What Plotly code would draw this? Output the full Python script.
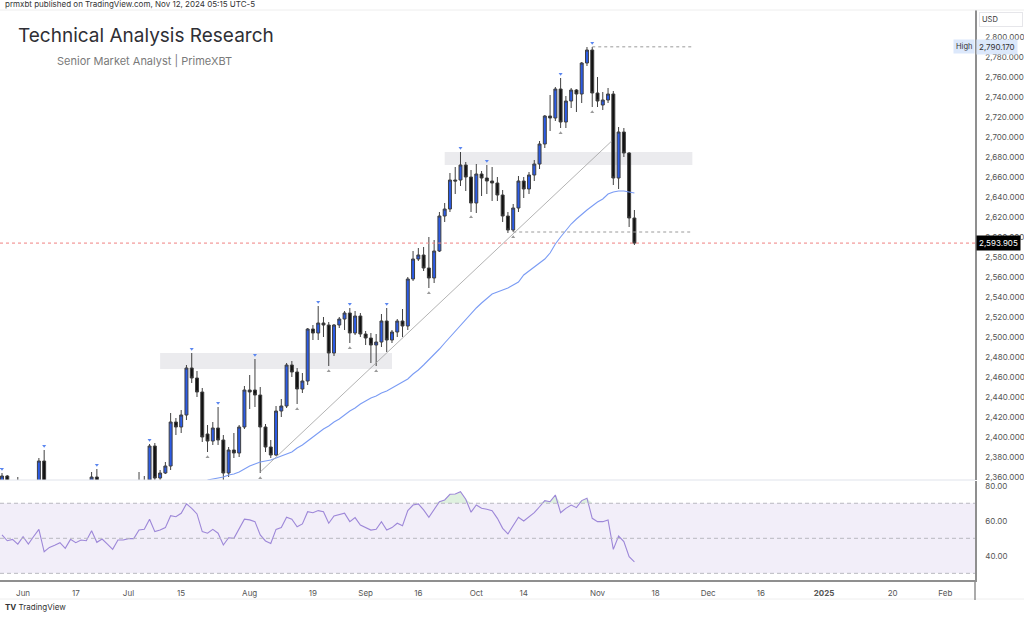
import numpy as np
import pandas as pd
import plotly.graph_objects as go

# ---------------- data ----------------
start_date = "2024-05-28"
end_date = "2024-11-12"

opens = [2351, 2361, 2338, 2343, 2327, 2350, 2327, 2355, 2376, 2294,
         2311, 2316, 2324, 2303, 2333, 2319, 2329, 2328, 2360, 2322,
         2334, 2320, 2298, 2327, 2326, 2331, 2330, 2356, 2357, 2391,
         2359, 2364, 2371, 2415, 2410, 2422, 2469, 2459, 2445, 2403,
         2396, 2409, 2397, 2364, 2387, 2384, 2410, 2447, 2447, 2442,
         2410, 2390, 2382, 2426, 2431, 2472, 2465, 2448, 2456, 2508,
         2504, 2514, 2512, 2484, 2512, 2518, 2524, 2504, 2521, 2503,
         2499, 2492, 2495, 2516, 2497, 2505, 2516, 2511, 2558, 2578,
         2582, 2569, 2559, 2586, 2621, 2628, 2657, 2657, 2672, 2660,
         2634, 2663, 2659, 2656, 2654, 2642, 2621, 2607, 2629, 2656,
         2648, 2662, 2673, 2693, 2721, 2719, 2748, 2715, 2736, 2747,
         2743, 2774, 2787, 2744, 2732, 2737, 2743, 2659, 2705, 2684,
         2619]
highs = [2364, 2362, 2351, 2360, 2354, 2351, 2356, 2379, 2387, 2314,
         2318, 2342, 2327, 2335, 2335, 2331, 2332, 2365, 2368, 2337,
         2336, 2324, 2332, 2339, 2339, 2335, 2365, 2361, 2393, 2394,
         2367, 2375, 2424, 2419, 2427, 2472, 2484, 2466, 2449, 2412,
         2415, 2430, 2402, 2390, 2404, 2412, 2451, 2462, 2478, 2450,
         2413, 2397, 2431, 2438, 2474, 2476, 2469, 2464, 2509, 2512,
         2531, 2520, 2515, 2513, 2520, 2526, 2529, 2526, 2524, 2506,
         2504, 2503, 2523, 2529, 2507, 2518, 2528, 2560, 2586, 2589,
         2590, 2600, 2597, 2625, 2634, 2664, 2670, 2685, 2675, 2667,
         2673, 2666, 2672, 2670, 2660, 2647, 2625, 2633, 2661, 2660,
         2665, 2677, 2696, 2722, 2742, 2750, 2759, 2741, 2749, 2748,
         2775, 2790, 2790, 2760, 2745, 2749, 2746, 2710, 2709, 2685,
         2627]
lows = [2341, 2334, 2326, 2314, 2315, 2314, 2323, 2350, 2287, 2286,
        2298, 2301, 2296, 2302, 2310, 2310, 2320, 2327, 2316, 2317,
        2310, 2293, 2297, 2318, 2318, 2319, 2326, 2352, 2352, 2353,
        2357, 2363, 2367, 2402, 2404, 2417, 2454, 2440, 2395, 2385,
        2392, 2392, 2356, 2360, 2379, 2380, 2408, 2428, 2430, 2364,
        2385, 2379, 2381, 2420, 2429, 2460, 2433, 2444, 2452, 2497,
        2497, 2500, 2471, 2481, 2509, 2507, 2494, 2502, 2500, 2492,
        2474, 2471, 2490, 2485, 2494, 2500, 2500, 2507, 2556, 2576,
        2566, 2549, 2554, 2585, 2615, 2625, 2643, 2651, 2646, 2625,
        2624, 2641, 2643, 2636, 2636, 2615, 2604, 2605, 2625, 2639,
        2643, 2656, 2668, 2689, 2706, 2716, 2709, 2709, 2729, 2725,
        2734, 2771, 2730, 2730, 2727, 2734, 2652, 2648, 2680, 2610,
        2592]
closes = [2361, 2338, 2343, 2327, 2350, 2327, 2355, 2376, 2294, 2311,
          2316, 2324, 2303, 2333, 2319, 2329, 2328, 2360, 2322, 2334,
          2320, 2298, 2327, 2326, 2331, 2330, 2356, 2356, 2391, 2359,
          2364, 2371, 2415, 2410, 2422, 2469, 2459, 2445, 2400, 2396,
          2409, 2397, 2364, 2387, 2384, 2410, 2447, 2445, 2442, 2410,
          2390, 2382, 2426, 2431, 2472, 2465, 2448, 2456, 2508, 2504,
          2514, 2512, 2484, 2512, 2518, 2524, 2504, 2521, 2503, 2499,
          2492, 2495, 2516, 2497, 2505, 2516, 2511, 2558, 2578, 2582,
          2569, 2559, 2586, 2621, 2628, 2657, 2656, 2672, 2660, 2634,
          2663, 2659, 2656, 2654, 2642, 2621, 2607, 2629, 2656, 2648,
          2662, 2673, 2693, 2721, 2719, 2748, 2715, 2736, 2747, 2743,
          2774, 2787, 2744, 2736, 2737, 2743, 2659, 2705, 2684, 2619,
          2593.905]

rsi = [51.9, 48.6, 49.4, 46.7, 50.9, 46.7, 51.0, 55.1, 42.3, 44.8,
       46.0, 47.5, 44.3, 49.4, 47.5, 49.0, 48.6, 54.3, 47.7, 49.6,
       46.7, 43.7, 49.0, 49.0, 49.8, 49.8, 54.7, 55.1, 60.9, 53.8,
       54.7, 56.1, 62.9, 62.3, 64.3, 69.6, 67.1, 63.9, 53.8, 52.9,
       55.1, 52.9, 46.2, 50.3, 50.0, 55.1, 60.9, 60.5, 59.5, 51.9,
       48.5, 47.1, 55.1, 56.1, 62.0, 60.9, 56.6, 58.2, 65.2, 64.6,
       65.8, 65.2, 58.6, 62.7, 63.5, 64.3, 59.5, 61.8, 57.6, 56.3,
       54.7, 55.1, 59.5, 54.7, 56.1, 58.6, 57.2, 65.8, 69.0, 69.6,
       66.2, 62.0, 66.8, 70.9, 71.9, 75.1, 75.3, 76.6, 72.3, 64.9,
       69.0, 67.1, 66.6, 65.8, 61.4, 55.7, 52.5, 57.6, 62.0, 59.9,
       62.3, 64.6, 68.0, 71.5, 70.9, 74.7, 64.6, 67.1, 69.0, 67.5,
       71.5, 72.9, 61.4, 59.5, 59.5, 60.5, 43.7, 51.3, 48.1, 39.5,
       36.6]

ma_start = 39
ma_values = [2357, 2358, 2359, 2360, 2362, 2363, 2365, 2368, 2371, 2373,
             2375, 2376, 2377, 2379, 2381, 2383, 2385, 2389, 2392, 2396,
             2400, 2404, 2408, 2411, 2415, 2418, 2422, 2426, 2429, 2433,
             2436, 2439, 2441, 2444, 2446, 2449, 2452, 2455, 2458, 2463,
             2467, 2472, 2477, 2482, 2488, 2494, 2500, 2506, 2512, 2518,
             2524, 2529, 2534, 2539, 2543, 2545, 2547, 2549, 2552, 2555,
             2562, 2566, 2570, 2574, 2578, 2584, 2593, 2600, 2607, 2613,
             2618, 2623, 2627, 2631, 2635, 2638, 2643, 2645, 2646, 2646,
             2645, 2644]

pivot_high_idx = [0, 8, 18, 28, 36, 41, 48, 60, 66, 73, 87, 92, 106, 112]
pivot_low_idx = [27, 39, 49, 56, 62, 66, 71, 81, 89, 97, 106, 112]

tick_dates = ["2024-06-03", "2024-06-17", "2024-07-01", "2024-07-15", "2024-08-01",
              "2024-08-19", "2024-09-02", "2024-09-16", "2024-10-01", "2024-10-14",
              "2024-11-01", "2024-11-18", "2024-12-02", "2024-12-16", "2025-01-01",
              "2025-01-20", "2025-02-03"]
tick_labels = ["Jun", "17", "Jul", "15", "Aug", "19", "Sep", "16", "Oct", "14",
               "Nov", "18", "Dec", "16", "<b>2025</b>", "20", "Feb"]

price_ticks = list(range(2360, 2801, 20))
rsi_ticks = [40, 60, 80]

last_price = 2593.905
high_price = 2790.170

# drawings (index, price anchors)
zone_boxes = [(30, 74, 2468, 2484), (84, 131, 2672, 2685)]
trend_line = (49, 2365, 115.7, 2696)
high_line = (112, 131, 2790.17)
low_line = (97, 131, 2605)

# ---------------- helpers ----------------
dates = pd.bdate_range(start_date, end_date)
n = len(closes)
idx = np.arange(n)
tick_idx = [int(np.busday_count(start_date, d)) for d in tick_dates]

W, H = 1024, 617
ML, MR, MT, MB = 0, 49, 10, 37
PW, PH = W - ML - MR, H - MT - MB


def px(x):
    return (x - ML) / PW


def py(y):
    return (H - MB - y) / PH


BLUE = "#2b5be6"
FONT = "Inter, 'Noto Sans', sans-serif"
AXIS = "#8f8f8f"

fig = go.Figure()

fig.add_trace(go.Candlestick(
    x=idx, open=opens, high=highs, low=lows, close=closes,
    increasing=dict(fillcolor=BLUE, line=dict(color="#404040", width=1)),
    decreasing=dict(fillcolor="#111111", line=dict(color="#404040", width=1)),
    whiskerwidth=0, showlegend=False, hoverinfo="skip",
    xaxis="x", yaxis="y"))

fig.add_trace(go.Scatter(
    x=idx[ma_start:ma_start + len(ma_values)], y=ma_values, mode="lines",
    line=dict(color="#7b9cf4", width=1.1), showlegend=False, hoverinfo="skip",
    xaxis="x", yaxis="y"))

fig.add_trace(go.Scatter(
    x=pivot_high_idx, y=[highs[i] + 4 for i in pivot_high_idx], mode="markers",
    marker=dict(symbol="triangle-down", size=3.5, color="#5a86f0"),
    showlegend=False, hoverinfo="skip", xaxis="x", yaxis="y"))
fig.add_trace(go.Scatter(
    x=pivot_low_idx, y=[lows[i] - 5 for i in pivot_low_idx], mode="markers",
    marker=dict(symbol="triangle-up", size=3.5, color="#9a9a9a"),
    showlegend=False, hoverinfo="skip", xaxis="x", yaxis="y"))

# RSI overbought fill
fig.add_trace(go.Scatter(x=idx, y=[70] * n, mode="lines", line=dict(width=0),
                         showlegend=False, hoverinfo="skip", xaxis="x", yaxis="y2"))
fig.add_trace(go.Scatter(x=idx, y=[max(v, 70) for v in rsi], mode="lines",
                         line=dict(width=0), fill="tonexty",
                         fillcolor="rgba(76,175,80,0.18)",
                         showlegend=False, hoverinfo="skip", xaxis="x", yaxis="y2"))
fig.add_trace(go.Scatter(x=idx, y=rsi, mode="lines",
                         line=dict(color="#9d87d8", width=1.1),
                         showlegend=False, hoverinfo="skip", xaxis="x", yaxis="y2"))

shapes = []
shapes.append(dict(type="rect", xref="x domain", yref="y2", x0=0, x1=1, y0=30, y1=70,
                   fillcolor="rgba(126,87,194,0.1)", line=dict(width=0), layer="below"))
for lv in (30, 50, 70):
    shapes.append(dict(type="line", xref="x domain", yref="y2", x0=0, x1=1, y0=lv, y1=lv,
                       line=dict(color="#b8b8c0", width=1, dash="4px,3px")))
for (a, b, lo, hi) in zone_boxes:
    shapes.append(dict(type="rect", xref="x", yref="y", x0=a, x1=b, y0=lo, y1=hi,
                       fillcolor="rgba(215,215,222,0.5)", line=dict(width=0), layer="below"))
shapes.append(dict(type="line", xref="x", yref="y", x0=trend_line[0], y0=trend_line[1],
                   x1=trend_line[2], y1=trend_line[3],
                   line=dict(color="#a0a0a0", width=0.8)))
for (a, b, p) in (high_line, low_line):
    shapes.append(dict(type="line", xref="x", yref="y", x0=a, x1=b, y0=p, y1=p,
                       line=dict(color="#9a9a9a", width=1, dash="dot")))
shapes.append(dict(type="line", xref="x domain", yref="y", x0=0, x1=1, y0=last_price,
                   y1=last_price, line=dict(color="#f08080", width=1, dash="dot")))
shapes.append(dict(type="line", xref="paper", yref="paper", x0=0, x1=1, y0=py(480), y1=py(480),
                   line=dict(color="#e0e3eb", width=1)))
shapes.append(dict(type="line", xref="paper", yref="paper", x0=0, x1=px(W), y0=py(10), y1=py(10),
                   line=dict(color="#eeeeee", width=1)))
shapes.append(dict(type="line", xref="paper", yref="paper", x0=0, x1=px(W), y0=py(599), y1=py(599),
                   line=dict(color="#eeeeee", width=1)))
shapes.append(dict(type="line", xref="paper", yref="paper", x0=1, x1=1, y0=py(580), y1=py(600),
                   line=dict(color=AXIS, width=1.5)))

annotations = []
annotations.append(dict(xref="paper", yref="paper", x=px(3), y=py(4), xanchor="left",
                        yanchor="middle", showarrow=False,
                        text="prmxbt published on TradingView.com, Nov 12, 2024 05:15 UTC-5",
                        font=dict(family=FONT, size=8, color="#333")))
annotations.append(dict(xref="paper", yref="paper", x=px(16), y=py(35), xanchor="left",
                        yanchor="middle", showarrow=False, text="Technical Analysis Research",
                        font=dict(family=FONT, size=19, color="#2f2f35")))
annotations.append(dict(xref="paper", yref="paper", x=px(55), y=py(61), xanchor="left",
                        yanchor="middle", showarrow=False, text="Senior Market Analyst | PrimeXBT",
                        font=dict(family=FONT, size=11, color="#7a7a7a")))
annotations.append(dict(xref="paper", yref="paper", x=px(3), y=py(607), xanchor="left",
                        yanchor="middle", showarrow=False, text="<b>TV</b> TradingView",
                        font=dict(family=FONT, size=8, color="#333")))
annotations.append(dict(xref="paper", yref="paper", x=px(979), y=py(19), xanchor="left",
                        yanchor="middle", showarrow=False, text="USD", width=38, align="left",
                        bordercolor="#e6e6ea", borderwidth=1, borderpad=2, bgcolor="white",
                        font=dict(family=FONT, size=7.5, color="#333")))
annotations.append(dict(xref="paper", yref="y", x=px(976), y=last_price, xanchor="left",
                        yanchor="middle", showarrow=False, text="2,593.905", bgcolor="#000",
                        borderpad=2, font=dict(family=FONT, size=8, color="white")))
annotations.append(dict(xref="paper", yref="y", x=px(976), y=high_price, xanchor="left",
                        yanchor="middle", showarrow=False, text="2,790.170", bgcolor="#dce8fb",
                        borderpad=2, font=dict(family=FONT, size=8, color="#333")))
annotations.append(dict(xref="paper", yref="y", x=px(975), y=high_price, xanchor="right",
                        yanchor="middle", showarrow=False, text="High", bgcolor="#dce8fb",
                        borderpad=2, font=dict(family=FONT, size=7.5, color="#333")))

fig.update_layout(
    width=W, height=H,
    margin=dict(l=ML, r=MR, t=MT, b=MB),
    paper_bgcolor="white", plot_bgcolor="white",
    showlegend=False,
    boxgap=0.2,
    font=dict(family=FONT, size=8, color="#555"),
    xaxis=dict(range=[-0.38, 184.63], anchor="y2", showgrid=False, zeroline=False,
               rangeslider=dict(visible=False), tickmode="array", tickvals=tick_idx,
               ticktext=tick_labels, ticks="", ticklabelstandoff=5,
               tickfont=dict(size=8, color="#555"),
               showline=True, linecolor=AXIS, linewidth=1.5),
    yaxis=dict(domain=[py(480), 1], range=[2357, 2827], side="right", showgrid=False,
               zeroline=False, tickmode="array", tickvals=price_ticks, tickformat=",.3f",
               ticks="", ticklabelstandoff=7, tickfont=dict(size=8, color="#555"),
               showline=True, linecolor=AXIS, linewidth=1.5, anchor="x"),
    yaxis2=dict(domain=[0, py(481)], range=[26.2, 82.7], side="right", showgrid=False,
                zeroline=False, tickmode="array", tickvals=rsi_ticks, tickformat=".2f",
                ticks="", ticklabelstandoff=7, tickfont=dict(size=8, color="#555"),
                showline=True, linecolor=AXIS, linewidth=1.5, anchor="x"),
    shapes=shapes,
    annotations=annotations,
)

fig.write_html("out.html", config={"displayModeBar": False},
               post_script="document.body.style.margin='0';")
